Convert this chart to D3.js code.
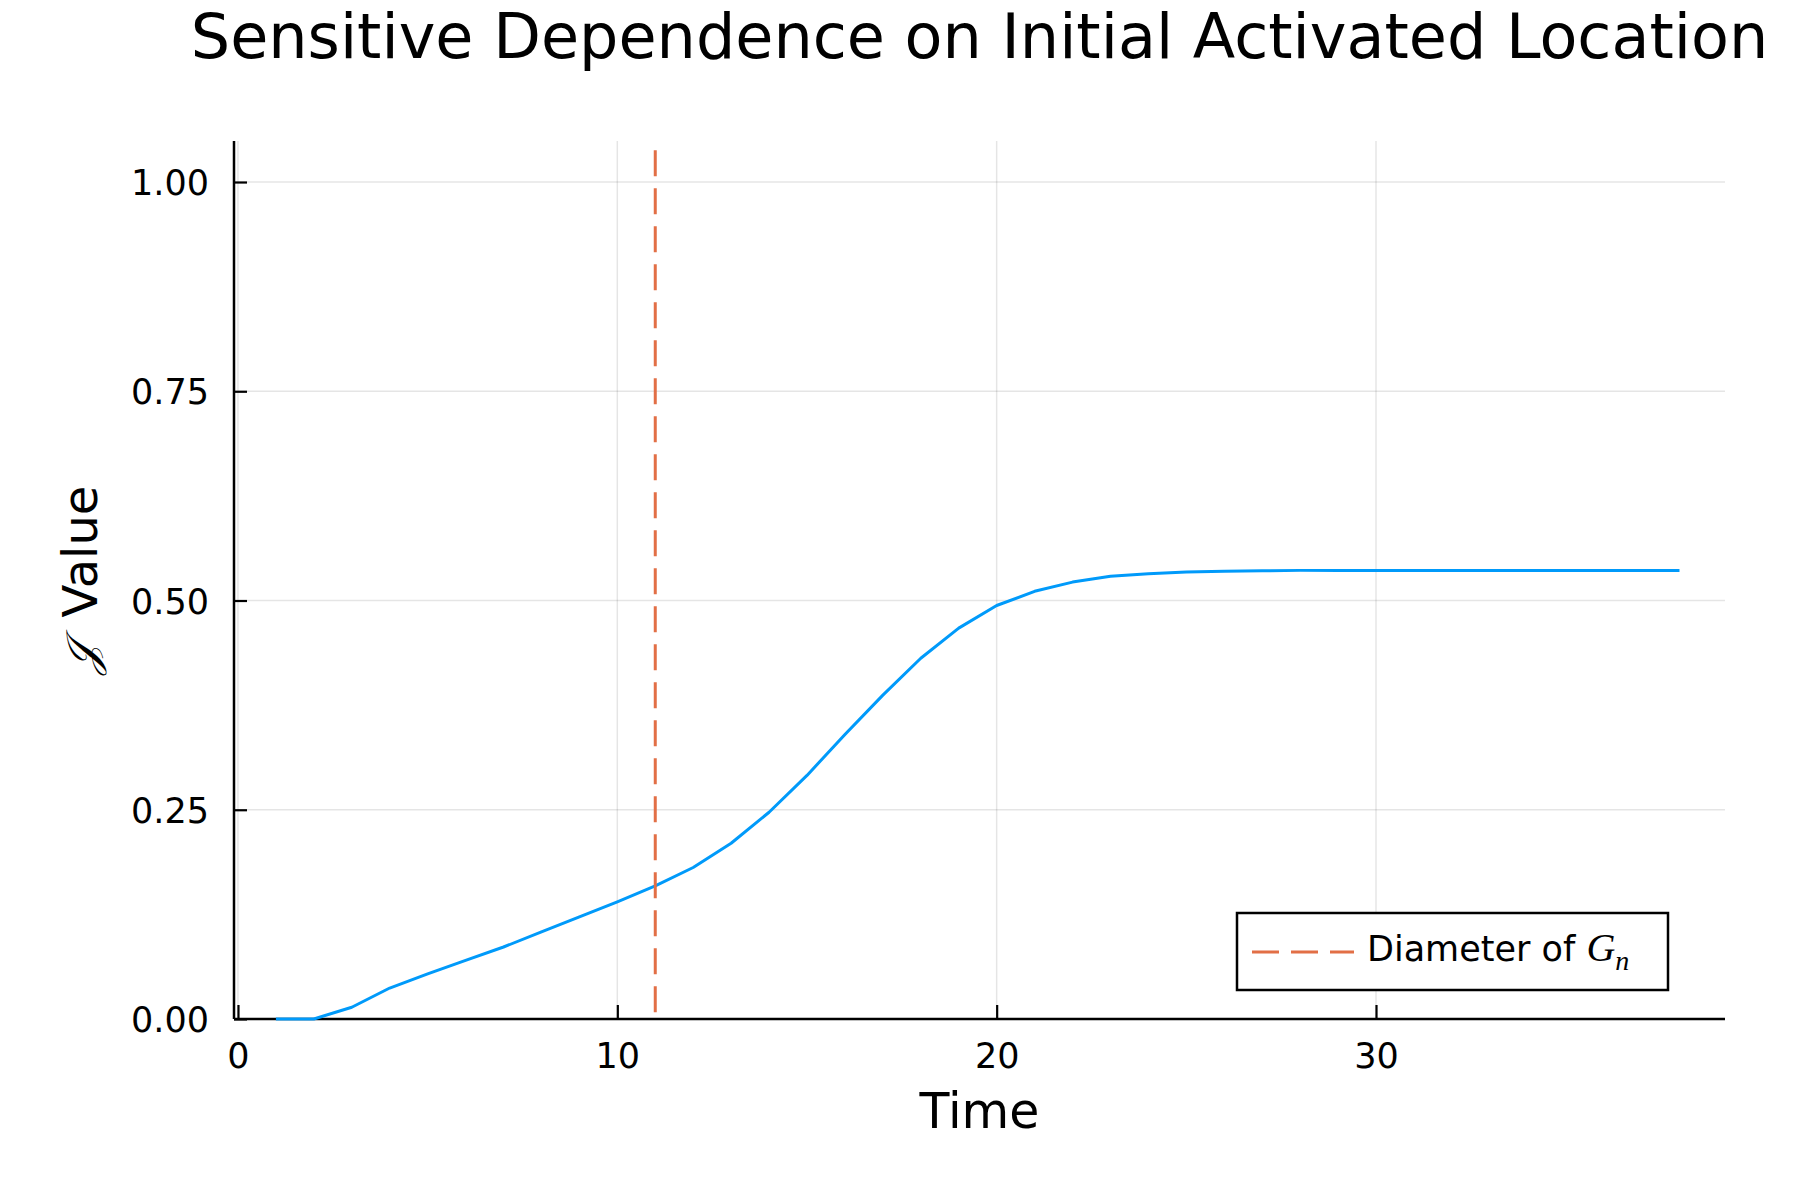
<!DOCTYPE html>
<html><head><meta charset="utf-8">
<script src="https://cdn.jsdelivr.net/npm/d3@7"></script>
<style>body{margin:0;background:#fff}svg{display:block}text{font-family:"DejaVu Sans",sans-serif}</style>
</head><body>
<script>
const timeValues = [1,2,3,4,5,6,7,8,9,10,11,12,13,14,15,16,17,18,19,20,21,22,23,24,25,26,27,28,29,30,31,32,33,34,35,36,37,38];
const jValues = [0,0,0.014,0.037,0.054,0.070,0.086,0.104,0.122,0.140,0.159,0.181,0.210,0.247,0.291,0.340,0.387,0.431,0.467,0.494,0.511,0.522,0.529,0.532,0.534,0.535,0.5355,0.536,0.536,0.536,0.536,0.536,0.536,0.536,0.536,0.536,0.536,0.536];
const diameterX = [11, 11];
const diameterY = [0, 1.038];
const xTicks = [0,10,20,30];
const yTicks = [0,0.25,0.5,0.75,1.0];
const xDomain = [-0.105, 39.2];
const yDomain = [0, 1.049];
const titleText = "Sensitive Dependence on Initial Activated Location";
const xLabel = "Time";
const legendLabel = "Diameter of ";

const W=1800,H=1200;
const L=234,R=1725,T=141,B=1019;
const svg=d3.select("body").append("svg").attr("width",W).attr("height",H);
svg.append("rect").attr("width",W).attr("height",H).attr("fill","#fff");
const x=d3.scaleLinear().domain(xDomain).range([L,R]);
const y=d3.scaleLinear().domain(yDomain).range([B,T]);

// grid
const g=svg.append("g");
g.selectAll(".gx").data(xTicks).join("line").attr("x1",d=>x(d)).attr("x2",d=>x(d)).attr("y1",T).attr("y2",B)
 .attr("stroke","#000").attr("stroke-opacity",0.1).attr("stroke-width",1.5);
g.selectAll(".gy").data(yTicks).join("line").attr("y1",d=>y(d)).attr("y2",d=>y(d)).attr("x1",L).attr("x2",R)
 .attr("stroke","#000").attr("stroke-opacity",0.1).attr("stroke-width",1.5);

// axes
const xa=svg.append("g").attr("transform",`translate(0,${B})`)
 .call(d3.axisBottom(x).tickValues(xTicks).tickSize(-14).tickPadding(24).tickFormat(d3.format("d")));
const ya=svg.append("g").attr("transform",`translate(${L},0)`)
 .call(d3.axisLeft(y).tickValues(yTicks).tickSize(-13).tickPadding(25).tickFormat(d3.format(".2f")));
[xa,ya].forEach(a=>{
  a.select(".domain").remove();
  a.selectAll(".tick line").attr("stroke","#000").attr("stroke-width",2.2);
  a.selectAll(".tick text").attr("font-size",35).attr("font-family","DejaVu Sans").attr("fill","#000");
});
xa.selectAll(".tick text").attr("dy","0.71em");
ya.selectAll(".tick text").attr("dy","0.36em");
svg.append("line").attr("x1",L).attr("x2",R).attr("y1",B).attr("y2",B).attr("stroke","#000").attr("stroke-width",2.5);
svg.append("line").attr("x1",L).attr("x2",L).attr("y1",T).attr("y2",B).attr("stroke","#000").attr("stroke-width",2.5);

// series
const line=d3.line().x((d,i)=>x(timeValues[i])).y(d=>y(d));
svg.append("path").datum(jValues).attr("d",line).attr("fill","none").attr("stroke","#009AFA").attr("stroke-width",3).attr("stroke-linejoin","round");
svg.append("path").datum([1,0]).attr("d",d3.line().x(i=>x(diameterX[i])).y(i=>y(diameterY[i])))
 .attr("fill","none").attr("stroke","#E26F46").attr("stroke-width",3).attr("stroke-dasharray","26,12");

// title & labels
svg.append("text").attr("x",(L+R)/2).attr("y",58).attr("text-anchor","middle").attr("font-size",62).text(titleText);
svg.append("text").attr("x",(L+R)/2).attr("y",1128).attr("text-anchor","middle").attr("font-size",49).text(xLabel);
const yl=svg.append("text").attr("transform",`translate(97,${(T+B)/2}) rotate(-90)`).attr("text-anchor","middle").attr("font-size",48);
yl.append("tspan").attr("font-family","DejaVu Serif, serif").attr("font-style","italic").attr("font-size",44).text("𝒥");
yl.append("tspan").attr("dx",27).text("Value");

// legend
const lg=svg.append("g");
lg.append("rect").attr("x",1237).attr("y",913).attr("width",431).attr("height",77).attr("fill","#fff").attr("stroke","#000").attr("stroke-width",2.5);
lg.append("line").attr("x1",1252).attr("x2",1354).attr("y1",952).attr("y2",952).attr("stroke","#E26F46").attr("stroke-width",3).attr("stroke-dasharray","27,12");
const lt=lg.append("text").attr("x",1367).attr("y",961).attr("font-size",35).text(legendLabel);
lt.append("tspan").attr("font-family","Liberation Serif, serif").attr("font-style","italic").attr("font-size",40).text("G");
lt.append("tspan").attr("font-family","Liberation Serif, serif").attr("font-style","italic").attr("font-size",28).attr("dy",9).text("n");
</script>
</body></html>
